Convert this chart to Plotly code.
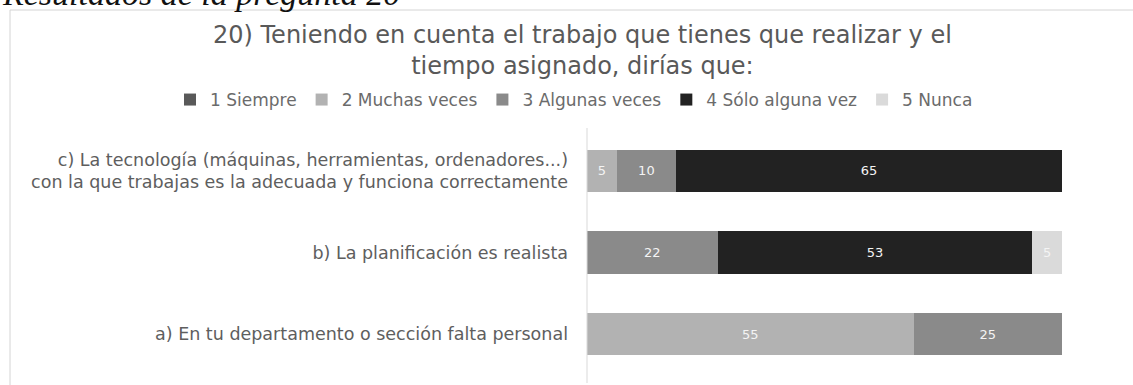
import plotly.graph_objects as go

# Survey question 20: answers per statement (percent of respondents)
categories = [
    "a) En tu departamento o sección falta personal",
    "b) La planificación es realista",
    "c) La tecnología (máquinas, herramientas, ordenadores...)<br>con la que trabajas es la adecuada y funciona correctamente",
]
series_names = ["1 Siempre", "2 Muchas veces", "3 Algunas veces", "4 Sólo alguna vez", "5 Nunca"]
siempre = [0, 0, 0]
muchas_veces = [55, 0, 5]
algunas_veces = [25, 22, 10]
solo_alguna_vez = [0, 53, 65]
nunca = [0, 5, 0]

series_values = [siempre, muchas_veces, algunas_veces, solo_alguna_vez, nunca]
colors = ["#595959", "#b2b2b2", "#8a8a8a", "#222222", "#dadada"]

W, H = 1133, 385
PL, PR, PT, PB = 587, 1062, 130, 375  # plot area in pixels


def px(xp):
    return (xp - PL) / (PR - PL)


def py(yp):
    return (PB - yp) / (PB - PT)


fig = go.Figure()
for name, vals, col in zip(series_names, series_values, colors):
    fig.add_trace(go.Bar(
        y=categories,
        x=vals,
        name=name,
        orientation="h",
        marker=dict(color=col, line=dict(width=0)),
        text=[str(v) if v else "" for v in vals],
        textposition="inside",
        insidetextanchor="middle",
        textfont=dict(family="DejaVu Sans", size=13, color="#f4f4f4"),
        hoverinfo="x+name",
    ))

fig.update_layout(
    width=W,
    height=H,
    barmode="stack",
    bargap=0.48,
    paper_bgcolor="white",
    plot_bgcolor="white",
    margin=dict(l=PL, r=W - PR, t=PT, b=H - PB, pad=0),
    showlegend=True,
    legend=dict(
        orientation="h",
        x=px(170), xanchor="left",
        y=py(100), yanchor="middle",
        font=dict(family="DejaVu Sans", size=17, color="#6b6b6b"),
        itemwidth=30,
        traceorder="normal",
        bgcolor="rgba(0,0,0,0)",
    ),
    xaxis=dict(range=[0, 80], visible=False, fixedrange=True),
    yaxis=dict(
        showline=False,
        showgrid=False,
        ticks="",
        ticklabelstandoff=18,
        tickfont=dict(family="DejaVu Sans", size=17.5, color="#5e5e5e"),
        fixedrange=True,
    ),
    annotations=[
        dict(
            text="20) Teniendo en cuenta el trabajo que tienes que realizar y el<br>tiempo asignado, dirías que:",
            xref="paper", yref="paper",
            x=px(582), y=py(50),
            xanchor="center", yanchor="middle",
            showarrow=False,
            align="center",
            font=dict(family="DejaVu Sans", size=24, color="#595959"),
        ),
        dict(
            text="<i>Resultados de la pregunta 20</i>",
            xref="paper", yref="paper",
            x=px(0), y=py(14),
            xanchor="left", yanchor="bottom",
            showarrow=False,
            font=dict(family="Liberation Serif", size=34, color="#111111"),
        ),
    ],
    shapes=[
        # chart frame
        dict(type="rect", xref="paper", yref="paper",
             x0=px(10), x1=px(1150), y0=py(10), y1=py(400),
             line=dict(color="#d4d4d4", width=1), fillcolor="rgba(0,0,0,0)",
             layer="below"),
        # category axis line
        dict(type="line", xref="paper", yref="paper",
             x0=0, x1=0, y0=py(128), y1=py(383),
             line=dict(color="#d9d9d9", width=1)),
    ],
)

fig.write_html("out.html")
